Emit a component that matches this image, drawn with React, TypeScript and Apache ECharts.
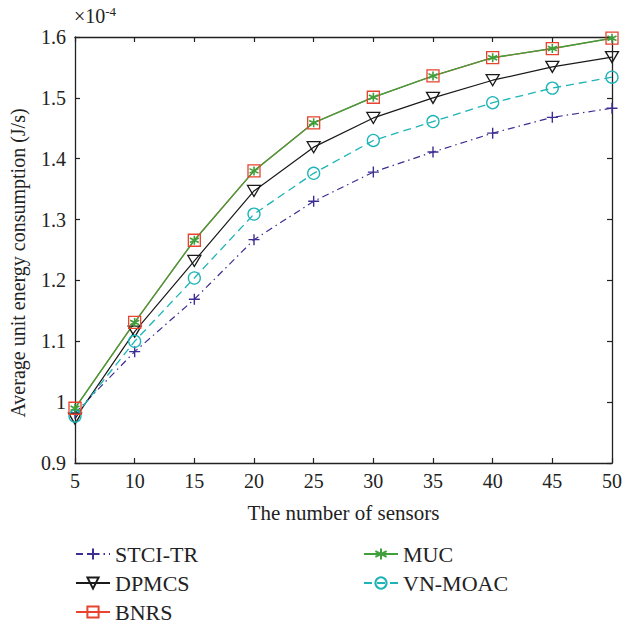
import React, { useEffect, useRef } from "react";
import * as echarts from "echarts";

const sensors = [5, 10, 15, 20, 25, 30, 35, 40, 45, 50];
const stciTr = [0.982, 1.083, 1.169, 1.267, 1.33, 1.378, 1.411, 1.442, 1.468, 1.483];
const dpmcs = [0.973, 1.116, 1.232, 1.347, 1.419, 1.467, 1.5, 1.529, 1.551, 1.567];
const vnMoac = [0.977, 1.1, 1.204, 1.309, 1.376, 1.43, 1.461, 1.492, 1.516, 1.534];
const bnrs = [0.99, 1.131, 1.266, 1.38, 1.459, 1.501, 1.536, 1.566, 1.581, 1.598];
const muc = [0.99, 1.131, 1.266, 1.38, 1.459, 1.501, 1.536, 1.566, 1.581, 1.598];
const yTicks = [0.9, 1.0, 1.1, 1.2, 1.3, 1.4, 1.5, 1.6];

const FONT = "Liberation Serif";

export default function App() {
  const ref = useRef<HTMLDivElement>(null);
  useEffect(() => {
    if (!ref.current) return;
    const chart = echarts.init(ref.current, null, { renderer: "svg" });
    const pair = (ys: number[]) => sensors.map((x, i) => [x, ys[i]]);
    const axisLine = { show: true, lineStyle: { color: "#222", width: 1.3 } };
    const tick = { show: true, inside: true, length: 5, lineStyle: { color: "#222", width: 1.2 } };
    const textStyle = { fontFamily: FONT, fontSize: 20, color: "#222" };
    const legendCommon = {
      orient: "vertical",
      top: 543,
      height: 100,
      padding: 0,
      itemWidth: 34,
      itemHeight: 14,
      itemGap: 7,
      textStyle: { fontFamily: FONT, fontSize: 22, color: "#222" },
    };
    chart.setOption({
      animation: false,
      textStyle: { fontFamily: FONT },
      grid: { left: 75, right: 9, top: 37, bottom: 163, containLabel: false },
      xAxis: [
        {
          type: "value",
          min: 5,
          max: 50,
          interval: 5,
          axisLine,
          axisTick: tick,
          splitLine: { show: false },
          axisLabel: { ...textStyle, margin: 8 },
          name: "The number of sensors",
          nameLocation: "middle",
          nameGap: 39,
          nameTextStyle: { ...textStyle, fontSize: 21 },
        },
        {
          type: "value",
          position: "top",
          min: 5,
          max: 50,
          interval: 5,
          axisLine,
          axisTick: tick,
          splitLine: { show: false },
          axisLabel: { show: false },
        },
      ],
      yAxis: [
        {
          type: "value",
          min: yTicks[0],
          max: yTicks[yTicks.length - 1],
          interval: 0.1,
          axisLine,
          axisTick: tick,
          splitLine: { show: false },
          axisLabel: {
            ...textStyle,
            margin: 9,
            formatter: (v: number) => String(parseFloat(v.toFixed(1))),
          },
        },
        {
          type: "value",
          position: "right",
          min: yTicks[0],
          max: yTicks[yTicks.length - 1],
          interval: 0.1,
          axisLine,
          axisTick: tick,
          splitLine: { show: false },
          axisLabel: { show: false },
        },
      ],
      legend: [
        { ...legendCommon, left: 75, data: ["STCI-TR", "DPMCS", "BNRS"] },
        { ...legendCommon, left: 363, data: ["MUC", "VN-MOAC"] },
      ],
      graphic: [
        {
          type: "text",
          x: 18,
          y: 263,
          rotation: Math.PI / 2,
          style: {
            text: "Average unit energy consumption (J/s)",
            fontFamily: FONT,
            fontSize: 20,
            fill: "#222",
            align: "center",
            verticalAlign: "middle",
          },
        },
        {
          type: "text",
          x: 74,
          y: 16,
          style: {
            text: "{a|×10}{b|-4}",
            fontFamily: FONT,
            fill: "#222",
            verticalAlign: "middle",
            rich: {
              a: { fontFamily: FONT, fontSize: 20, color: "#222" },
              b: { fontFamily: FONT, fontSize: 13, color: "#222", verticalAlign: "bottom", padding: [0, 0, 10, 0] },
            },
          },
        },
      ],
      series: [
        {
          name: "STCI-TR",
          type: "line",
          data: pair(stciTr),
          symbol: "path://M0,5L10,5M5,0L5,10",
          symbolSize: 11,
          lineStyle: { color: "#3c2e93", width: 1.2, type: [7, 4, 1.5, 4] },
          itemStyle: { color: "transparent", borderColor: "#3c2e93", borderWidth: 1.4 },
        },
        {
          name: "DPMCS",
          type: "line",
          data: pair(dpmcs),
          symbol: "path://M0,0L12,0L6,10Z",
          symbolSize: [13, 11],
          lineStyle: { color: "#1a1a1a", width: 1.2 },
          itemStyle: { color: "transparent", borderColor: "#1a1a1a", borderWidth: 1.3 },
        },
        {
          name: "VN-MOAC",
          type: "line",
          data: pair(vnMoac),
          symbol: "circle",
          symbolSize: 12,
          lineStyle: { color: "#1db4b8", width: 1.3, type: [8, 5] },
          itemStyle: { color: "transparent", borderColor: "#1db4b8", borderWidth: 1.3 },
        },
        {
          name: "BNRS",
          type: "line",
          data: pair(bnrs),
          symbol: "rect",
          symbolSize: 12,
          lineStyle: { color: "#e8432e", width: 1.2 },
          itemStyle: { color: "transparent", borderColor: "#e8432e", borderWidth: 1.3 },
        },
        {
          name: "MUC",
          type: "line",
          data: pair(muc),
          symbol: "path://M5,0L5,10M0.67,2.5L9.33,7.5M0.67,7.5L9.33,2.5",
          symbolSize: 9,
          lineStyle: { color: "#3f9f3a", width: 1.4 },
          itemStyle: { color: "transparent", borderColor: "#3f9f3a", borderWidth: 1.6 },
        },
      ],
    });
    return () => chart.dispose();
  }, []);
  return (
    <div
      ref={ref}
      style={{ position: "absolute", left: 0, top: 0, width: 625, height: 626, background: "#fff" }}
    />
  );
}
